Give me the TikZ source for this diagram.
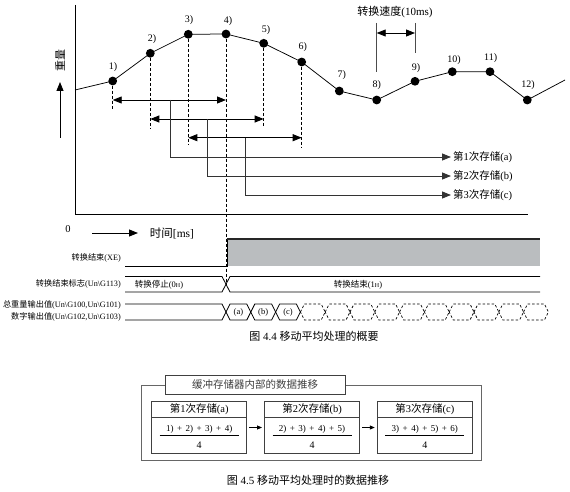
\documentclass[tikz,border=0pt]{standalone}
\usepackage{fontspec}
\setmainfont{Liberation Serif}
\newfontfamily\cjk{Noto Sans CJK SC}
\usetikzlibrary{arrows.meta}
\newcommand\zh[1]{{\cjk #1}}
\newcommand\pl{\hspace{3.5pt}+\hspace{3.5pt}}
\definecolor{sgray}{RGB}{186,189,191}
\begin{document}
\begin{tikzpicture}[x=1pt,y=-1pt,
 every node/.style={inner sep=1pt},
 dotn/.style={circle,fill=black,inner sep=0pt,minimum size=8.8pt},
 lbl/.style={font=\fontsize{10}{10}\selectfont},
 curve/.style={line width=0.75pt},
 drop/.style={dash pattern=on 3pt off 2pt,line width=0.75pt},
 tip/.style={-{Triangle[length=9pt,width=7pt]}},
 tips/.style={{Triangle[length=9pt,width=7pt]}-{Triangle[length=9pt,width=7pt]}},
 brline/.style={line width=0.8pt,black!80},
 storelbl/.style={font=\fontsize{10.5}{10.5}\selectfont,anchor=west,inner sep=2pt},
 siglbl/.style={font=\fontsize{8.2}{8.2}\selectfont,anchor=east,inner sep=0pt},
 sigtxt/.style={font=\fontsize{8.5}{8.5}\selectfont},
 sig/.style={line width=0.8pt},
 sigd/.style={line width=0.7pt,dash pattern=on 2.5pt off 2pt},
 captxt/.style={font=\fontsize{11}{11}\selectfont},
 boxline/.style={line width=1pt,black!75},
 btitle/.style={font=\fontsize{10.5}{10.5}\selectfont},
 fracnum/.style={font=\fontsize{9}{9}\selectfont}
]
\useasboundingbox (0,0) rectangle (570,492);

% ---------- axes ----------
\coordinate (ytop) at (75,5);
\coordinate (orig) at (75,214);
\coordinate (xend) at (528,214);
\draw[line width=1pt] (ytop) -- (orig) -- (xend);

% ---------- curve ----------
\coordinate (p0) at (75,90);
\coordinate (pe) at (565,80);
\node[dotn] (p1) at (112.7,81) {};
\node[dotn] (p2) at (150.3,53.3) {};
\node[dotn] (p3) at (188.3,34.3) {};
\node[dotn] (p4) at (226,34) {};
\node[dotn] (p5) at (263.7,43.3) {};
\node[dotn] (p6) at (301.7,62) {};
\node[dotn] (p7) at (339.3,91) {};
\node[dotn] (p8) at (376.7,100) {};
\node[dotn] (p9) at (415,81.3) {};
\node[dotn] (p10) at (452.3,71.7) {};
\node[dotn] (p11) at (490,71.7) {};
\node[dotn] (p12) at (527.3,100) {};
\draw[curve] (p0) -- (p1.center) -- (p2.center) -- (p3.center) -- (p4.center) -- (p5.center) -- (p6.center) -- (p7.center) -- (p8.center) -- (p9.center) -- (p10.center) -- (p11.center) -- (p12.center) -- (pe);

\node[lbl] (l1) at (113,67) {1)};
\node[lbl] (l2) at (152,39) {2)};
\node[lbl] (l3) at (189,20) {3)};
\node[lbl] (l4) at (228,21) {4)};
\node[lbl] (l5) at (266,30) {5)};
\node[lbl] (l6) at (302.7,47) {6)};
\node[lbl] (l7) at (341.7,75) {7)};
\node[lbl] (l8) at (376.7,85) {8)};
\node[lbl] (l9) at (416,68) {9)};
\node[lbl] (l10) at (454,60) {10)};
\node[lbl] (l11) at (490.7,58) {11)};
\node[lbl] (l12) at (528,85) {12)};

% ---------- dashed drops ----------
\coordinate (d1) at (112.7,110);
\coordinate (d2) at (150.3,128);
\coordinate (d3) at (188.3,145);
\coordinate (d4) at (226,285);
\coordinate (d5) at (263.7,127);
\coordinate (d6) at (301.7,147);
\draw[drop] (p1) -- (d1);
\draw[drop] (p2) -- (d2);
\draw[drop] (p3) -- (d3);
\draw[drop] (p4) -- (d4);
\draw[drop] (p5) -- (d5);
\draw[drop] (p6) -- (d6);

% ---------- double arrows ----------
\coordinate (a1l) at (112.7,100); \coordinate (a1r) at (226,100);
\coordinate (a2l) at (150.3,119); \coordinate (a2r) at (263.7,119);
\coordinate (a3l) at (188.3,137.7); \coordinate (a3r) at (301.7,137.7);
\draw[tips,line width=0.9pt] (a1l) -- (a1r);
\draw[tips,line width=0.9pt] (a2l) -- (a2r);
\draw[tips,line width=0.9pt] (a3l) -- (a3r);

% ---------- branches ----------
\node[storelbl] (s1) at (451,157) {\zh{第}1\zh{次存储}(a)};
\node[storelbl] (s2) at (451,176) {\zh{第}2\zh{次存储}(b)};
\node[storelbl] (s3) at (451,195) {\zh{第}3\zh{次存储}(c)};
\coordinate (b1) at (170,100);
\coordinate (b2) at (207,119);
\coordinate (b3) at (245,137.7);
\draw[brline,tip] (b1) |- (s1.west);
\draw[brline,tip] (b2) |- (s2.west);
\draw[brline,tip] (b3) |- (s3.west);

% ---------- conversion speed ----------
\node[font=\fontsize{11}{11}\selectfont] (spd) at (395,12) {\zh{转换速度}(10ms)};
\coordinate (sat) at (376.7,23); \coordinate (sab) at (376.7,72);
\coordinate (sbt) at (415,23); \coordinate (sbb) at (415,53);
\draw[line width=0.9pt,black!70] (sat) -- (sab);
\draw[line width=0.9pt,black!70] (sbt) -- (sbb);
\coordinate (sal) at (376.7,33); \coordinate (sbr) at (415,33);
\draw[tips,line width=0.9pt] (sal) -- (sbr);

% ---------- axis labels ----------
\node[rotate=90,font=\fontsize{11}{11}\selectfont] (ylab) at (60,61) {\zh{重量}};
\coordinate (yas) at (60,138); \coordinate (yae) at (60,82);
\draw[tip,line width=0.9pt] (yas) -- (yae);
\node[font=\fontsize{10.5}{10.5}\selectfont] (zero) at (68,229) {0};
\coordinate (tas) at (92,233); \coordinate (tae) at (138,233);
\draw[tip,line width=0.9pt] (tas) -- (tae);
\node[font=\fontsize{11.5}{11.5}\selectfont] (tlab) at (172,233) {\zh{时间}[ms]};

% ---------- timing chart ----------
\node[siglbl] (sxe) at (121,258) {\zh{转换结束}(XE)};
\node[siglbl] (sflag) at (121,284) {\zh{转换结束标志}(Un\textbackslash G113)};
\node[siglbl] (sout1) at (121,305) {\zh{总重量输出值}(Un\textbackslash G100,Un\textbackslash G101)};
\node[siglbl] (sout2) at (121,317) {\zh{数字输出值}(Un\textbackslash G102,Un\textbackslash G103)};

% XE
\fill[sgray] (227,239) rectangle (540,266);
\coordinate (xe0) at (125,266); \coordinate (xe1) at (227,266);
\coordinate (xe2) at (227,239); \coordinate (xe3) at (540,239);
\draw[sig] (xe0) -- (xe1) -- (xe2);
\draw[line width=1.6pt,black!85] (xe2) -- (xe3);

% flag
\draw[sig] (125,276.5) -- (222,276.5) -- (230,292) -- (540,292);
\draw[sig] (125,292) -- (222,292) -- (230,276.5) -- (540,276.5);
\node[sigtxt] (stop) at (159,284.5) {\zh{转换停止}(0{\fontsize{6}{6}\selectfont H})};
\node[sigtxt] (done) at (358,284.5) {\zh{转换结束}(1{\fontsize{6}{6}\selectfont H})};

% outputs
\draw[sig] (125,304) -- (222,304) -- (226,312) -- (222,320) -- (125,320);
\foreach \k in {0,1,2} {
  \pgfmathsetmacro\a{226+24.8*\k}
  \pgfmathsetmacro\b{\a+24.8}
  \draw[sig] (\a,312) -- (\a+4,304) -- (\b-4,304) -- (\b,312) -- (\b-4,320) -- (\a+4,320) -- cycle;
}
\node[sigtxt] (ca) at (238.4,312.5) {(a)};
\node[sigtxt] (cb) at (263.2,312.5) {(b)};
\node[sigtxt] (cc) at (288,312.5) {(c)};
\foreach \k in {3,...,12} {
  \pgfmathsetmacro\a{226+24.8*\k}
  \pgfmathsetmacro\b{\a+24.8}
  \draw[sigd] (\a,312) -- (\a+4,304) -- (\b-4,304) -- (\b,312) -- (\b-4,320) -- (\a+4,320) -- cycle;
}

\node[captxt] (cap44) at (314,336.5) {\zh{图} 4.4 \zh{移动平均处理的概要}};

% ---------- Figure 4.5 ----------
\coordinate (ob1) at (141.7,385); \coordinate (ob2) at (481.7,460);
\draw[line width=1pt,black!60] (ob1) rectangle (ob2);
\node[draw,boxline,fill=white,minimum width=180pt,minimum height=18.3pt,inner sep=0pt,font=\fontsize{10.5}{10.5}\selectfont] (btl) at (255,384.9) {\zh{缓冲存储器内部的数据推移}};

\node[draw,boxline,minimum width=95pt,minimum height=51.6pt,inner sep=0pt] (bx1) at (199.2,427.5) {};
\node[draw,boxline,minimum width=95pt,minimum height=51.6pt,inner sep=0pt] (bx2) at (312,427.5) {};
\node[draw,boxline,minimum width=95pt,minimum height=51.6pt,inner sep=0pt] (bx3) at (424.8,427.5) {};
\draw[boxline] (151.7,417.3) -- (246.7,417.3);
\draw[boxline] (264.5,417.3) -- (359.5,417.3);
\draw[boxline] (377.3,417.3) -- (472.3,417.3);
\node[btitle] (t1) at (199.2,409.5) {\zh{第}1\zh{次存储}(a)};
\node[btitle] (t2) at (312,409.5) {\zh{第}2\zh{次存储}(b)};
\node[btitle] (t3) at (424.8,409.5) {\zh{第}3\zh{次存储}(c)};
\node[fracnum] (n1) at (199.2,429) {1)\pl 2)\pl 3)\pl 4)};
\node[fracnum] (n2) at (312,429) {2)\pl 3)\pl 4)\pl 5)};
\node[fracnum] (n3) at (424.8,429) {3)\pl 4)\pl 5)\pl 6)};
\draw[line width=0.8pt] (159.7,435.7) -- (238.7,435.7);
\draw[line width=0.8pt] (272.5,435.7) -- (351.5,435.7);
\draw[line width=0.8pt] (385.3,435.7) -- (464.3,435.7);
\node[font=\fontsize{10}{10}\selectfont] (q1) at (199.2,445) {4};
\node[font=\fontsize{10}{10}\selectfont] (q2) at (312,445) {4};
\node[font=\fontsize{10}{10}\selectfont] (q3) at (424.8,445) {4};
\draw[-{Triangle[length=5pt,width=4pt]},line width=0.8pt,shorten <=2pt,shorten >=2pt] (bx1) -- (bx2);
\draw[-{Triangle[length=5pt,width=4pt]},line width=0.8pt,shorten <=2pt,shorten >=2pt] (bx2) -- (bx3);

\node[captxt] (cap45) at (308,480) {\zh{图} 4.5 \zh{移动平均处理时的数据推移}};
\end{tikzpicture}
\end{document}
